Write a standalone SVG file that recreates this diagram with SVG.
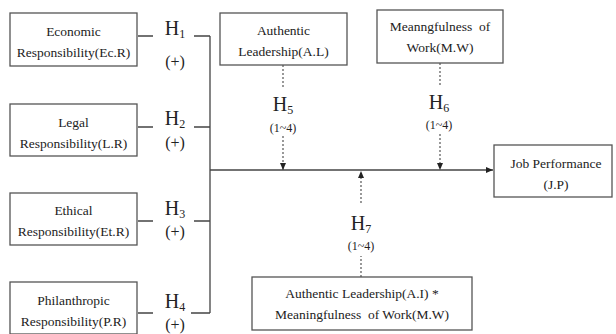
<svg xmlns="http://www.w3.org/2000/svg" width="616" height="334" viewBox="0 0 616 334">
<defs>
<style>
.box{fill:#fff;stroke:#555;stroke-width:1.3}
.t{font-family:"Liberation Serif","Times New Roman",serif;font-size:13.5px;fill:#222;text-anchor:middle}
.h{font-family:"Liberation Serif","Times New Roman",serif;font-size:20px;fill:#222;text-anchor:middle}
.s{font-size:12px}
.p{font-family:"Liberation Serif","Times New Roman",serif;font-size:16px;fill:#222;text-anchor:middle}
.r{font-family:"Liberation Serif","Times New Roman",serif;font-size:12px;fill:#222;text-anchor:middle}
.ln{stroke:#444;stroke-width:1.3;fill:none}
.dl{stroke:#555;stroke-width:1.2;fill:none;stroke-dasharray:2,2}
</style>
<marker id="ah" markerWidth="8" markerHeight="8" refX="7" refY="4" orient="auto" markerUnits="userSpaceOnUse">
<path d="M0,1 L7,4 L0,7 Z" fill="#222"/>
</marker>
</defs>
<rect width="616" height="334" fill="#fff"/>
<g id="connectors">
<path class="ln" d="M138,36 H153 M194,36 H210 M138,127 H153 M194,127 H210 M138,221 H153 M194,221 H210 M138,313 H153 M191,313 H210 M210,36 V313"/>
<path class="ln" d="M210,170 H493" marker-end="url(#ah)"/>
<path class="dl" d="M283,65 V88 M283,136 V170" marker-end="url(#ah)"/>
<path class="dl" d="M440,63 V86 M440,134 V170" marker-end="url(#ah)"/>
<path class="dl" d="M361,277 V256 M361,203 V171" marker-end="url(#ah)"/>
</g>
<g id="labels">
<text class="h" x="175" y="35">H<tspan class="s" dy="3">1</tspan></text>
<text class="p" x="175" y="67">(+)</text>
<text class="h" x="175" y="125">H<tspan class="s" dy="3">2</tspan></text>
<text class="p" x="175" y="148">(+)</text>
<text class="h" x="175" y="215">H<tspan class="s" dy="3">3</tspan></text>
<text class="p" x="175" y="237">(+)</text>
<text class="h" x="175" y="308">H<tspan class="s" dy="3">4</tspan></text>
<text class="p" x="175" y="330">(+)</text>
<text class="h" x="283" y="111">H<tspan class="s" dy="3">5</tspan></text>
<text class="r" x="283" y="132">(1~4)</text>
<text class="h" x="439" y="109">H<tspan class="s" dy="3">6</tspan></text>
<text class="r" x="439" y="129">(1~4)</text>
<text class="h" x="361" y="230">H<tspan class="s" dy="3">7</tspan></text>
<text class="r" x="361" y="250">(1~4)</text>
</g>
<g id="ecr">
<rect class="box" x="10" y="13" width="127" height="53"/>
<text class="t" x="73.5" y="36">Economic</text>
<text class="t" x="73.5" y="57">Responsibility(Ec.R)</text>
</g>
<g id="lr">
<rect class="box" x="10" y="104" width="127" height="52"/>
<text class="t" x="73.5" y="127">Legal</text>
<text class="t" x="73.5" y="148">Responsibility(L.R)</text>
</g>
<g id="etr">
<rect class="box" x="10" y="193" width="127" height="52"/>
<text class="t" x="73.5" y="215">Ethical</text>
<text class="t" x="73.5" y="236">Responsibility(Et.R)</text>
</g>
<g id="pr">
<rect class="box" x="10" y="282" width="127" height="52"/>
<text class="t" x="73.5" y="305">Philanthropic</text>
<text class="t" x="73.5" y="326">Responsibility(P.R)</text>
</g>
<g id="al">
<rect class="box" x="220" y="13" width="127" height="52"/>
<text class="t" x="283.5" y="35">Authentic</text>
<text class="t" x="283.5" y="56">Leadership(A.L)</text>
</g>
<g id="mw">
<rect class="box" x="377" y="10" width="126" height="53"/>
<text class="t" x="440" y="31" xml:space="preserve">Meanngfulness  of</text>
<text class="t" x="440" y="52">Work(M.W)</text>
</g>
<g id="jp">
<rect class="box" x="494" y="145" width="118" height="52"/>
<text class="t" x="556" y="168">Job Performance</text>
<text class="t" x="556" y="189">(J.P)</text>
</g>
<g id="almw">
<rect class="box" x="252" y="277" width="220" height="53"/>
<text class="t" x="362" y="298">Authentic Leadership(A.I) *</text>
<text class="t" x="362" y="319" xml:space="preserve">Meaningfulness  of Work(M.W)</text>
</g>
</svg>
